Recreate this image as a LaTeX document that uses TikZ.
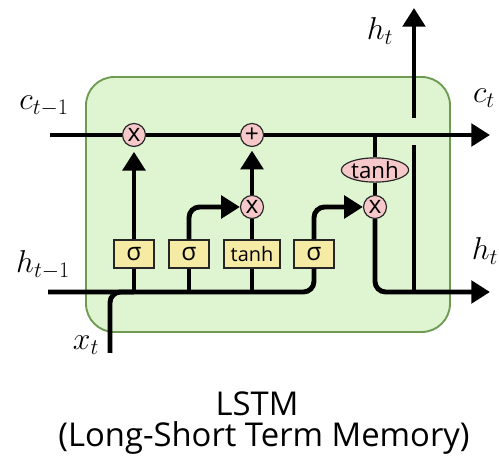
\documentclass[tikz,border=0pt]{standalone}
\usepackage{fix-cm}
\usepackage{fontspec}
\newfontfamily\gatefont{Open Sans}
\usetikzlibrary{arrows.meta,shapes.geometric}
\definecolor{cellgreen}{HTML}{DFF5D1}
\definecolor{celledge}{HTML}{6E9A52}
\definecolor{oppink}{HTML}{F6C8CA}
\definecolor{gateyellow}{HTML}{F6EBA4}
\tikzset{
  flow/.style={line width=4.2pt},
  gatebox/.style={draw=black!85, fill=gateyellow, line width=1pt, minimum height=0.84cm, minimum width=1.2cm, inner sep=0pt},
  opcirc/.style={circle, draw=black!85, fill=oppink, line width=1pt, minimum size=0.69cm, inner sep=0pt, font=\gatefont\fontsize{21}{21}\selectfont},
  opoval/.style={ellipse, draw=black!85, fill=oppink, line width=1pt, minimum width=1.7cm, minimum height=0.66cm, inner sep=0pt, font=\gatefont\fontsize{19}{19}\selectfont},
  vlabel/.style={font=\fontsize{27}{32}\selectfont},
}
\begin{document}
\begin{tikzpicture}[x=0.03cm, y=-0.03cm, >={Triangle[length=16pt,width=19pt]}]
  \useasboundingbox (0,0) rectangle (499,461);
  % cell
  \draw[fill=cellgreen, draw=celledge, line width=1.6pt, rounded corners=0.85cm] (86,77) rectangle (450,332);
  % gates and pointwise ops
  \node[gatebox, font=\gatefont\fontsize{21}{21}\selectfont] (sigf) at (134,254) {σ};
  \node[gatebox, font=\gatefont\fontsize{21}{21}\selectfont] (sigi) at (189,254) {σ};
  \node[gatebox, minimum width=1.68cm, font=\gatefont\fontsize{17}{17}\selectfont] (tanhc) at (252,254) {tanh};
  \node[gatebox, font=\gatefont\fontsize{21}{21}\selectfont] (sigo) at (314,254) {σ};
  \node[opcirc] (mulf) at (134,135) {x};
  \node[opcirc] (add) at (252,135) {+};
  \node[opcirc] (muli) at (252,207) {x};
  \node[opoval] (tanho) at (375,170) {tanh};
  \node[opcirc] (mulo) at (375,207) {x};
  % ends
  \coordinate (cin) at (50,135);
  \coordinate (cout) at (490,135);
  \coordinate (hin) at (48,292);
  \coordinate (hout) at (490,292);
  \coordinate (xin) at (110,353);
  \coordinate (hsplit) at (414,292);
  \coordinate (gaplo) at (414,145);
  \coordinate (gaphi) at (414,118);
  \coordinate (htop) at (414,8);
  % cell state
  \draw[flow] (cin) -- (mulf.west);
  \draw[flow] (mulf.east) -- (add.west);
  \draw[flow,->] (add.east) -- (cout);
  \draw[flow] (tanho.north |- add) -- (tanho.north);
  \draw[flow] (tanho.south) -- (mulo.north);
  % hidden state and input
  \draw[flow, rounded corners=9pt] (hin) -| (sigo.south);
  \draw[flow, rounded corners=9pt] (xin) |- (sigf.south |- hin);
  \draw[flow] (sigf.south |- hin) -- (sigf.south);
  \draw[flow] (sigi.south |- hin) -- (sigi.south);
  \draw[flow] (tanhc.south |- hin) -- (tanhc.south);
  % gate outputs
  \draw[flow,->,shorten >=4pt] (sigf.north) -- (mulf.south);
  \draw[flow,->,rounded corners=9pt] (sigi.north) |- (muli.west);
  \draw[flow] (tanhc.north) -- (muli.south);
  \draw[flow,->,shorten >=3pt] (muli.north) -- (add.south);
  \draw[flow,->,rounded corners=9pt] (sigo.north) |- (mulo.west);
  % output
  \draw[flow,->,rounded corners=9pt] (mulo.south) |- (hout);
  \draw[flow] (hsplit) -- (gaplo);
  \draw[flow,->] (gaphi) -- (htop);
  % labels
  \node[vlabel] (lcin) at (44,106) {$c_{t-1}$};
  \node[vlabel] (lhin) at (43,265) {$h_{t-1}$};
  \node[vlabel] (lxin) at (86,345) {$x_t$};
  \node[vlabel] (lcout) at (484,98) {$c_t$};
  \node[vlabel] (lhout) at (485,251) {$h_t$};
  \node[vlabel] (lhtop) at (380,31) {$h_t$};
  \node[font=\gatefont\fontsize{28}{28}\selectfont] (title) at (257,404) {LSTM};
  \node[font=\gatefont\fontsize{28}{28}\selectfont] (subtitle) at (264,438) {(Long-Short Term Memory)};
\end{tikzpicture}
\end{document}
